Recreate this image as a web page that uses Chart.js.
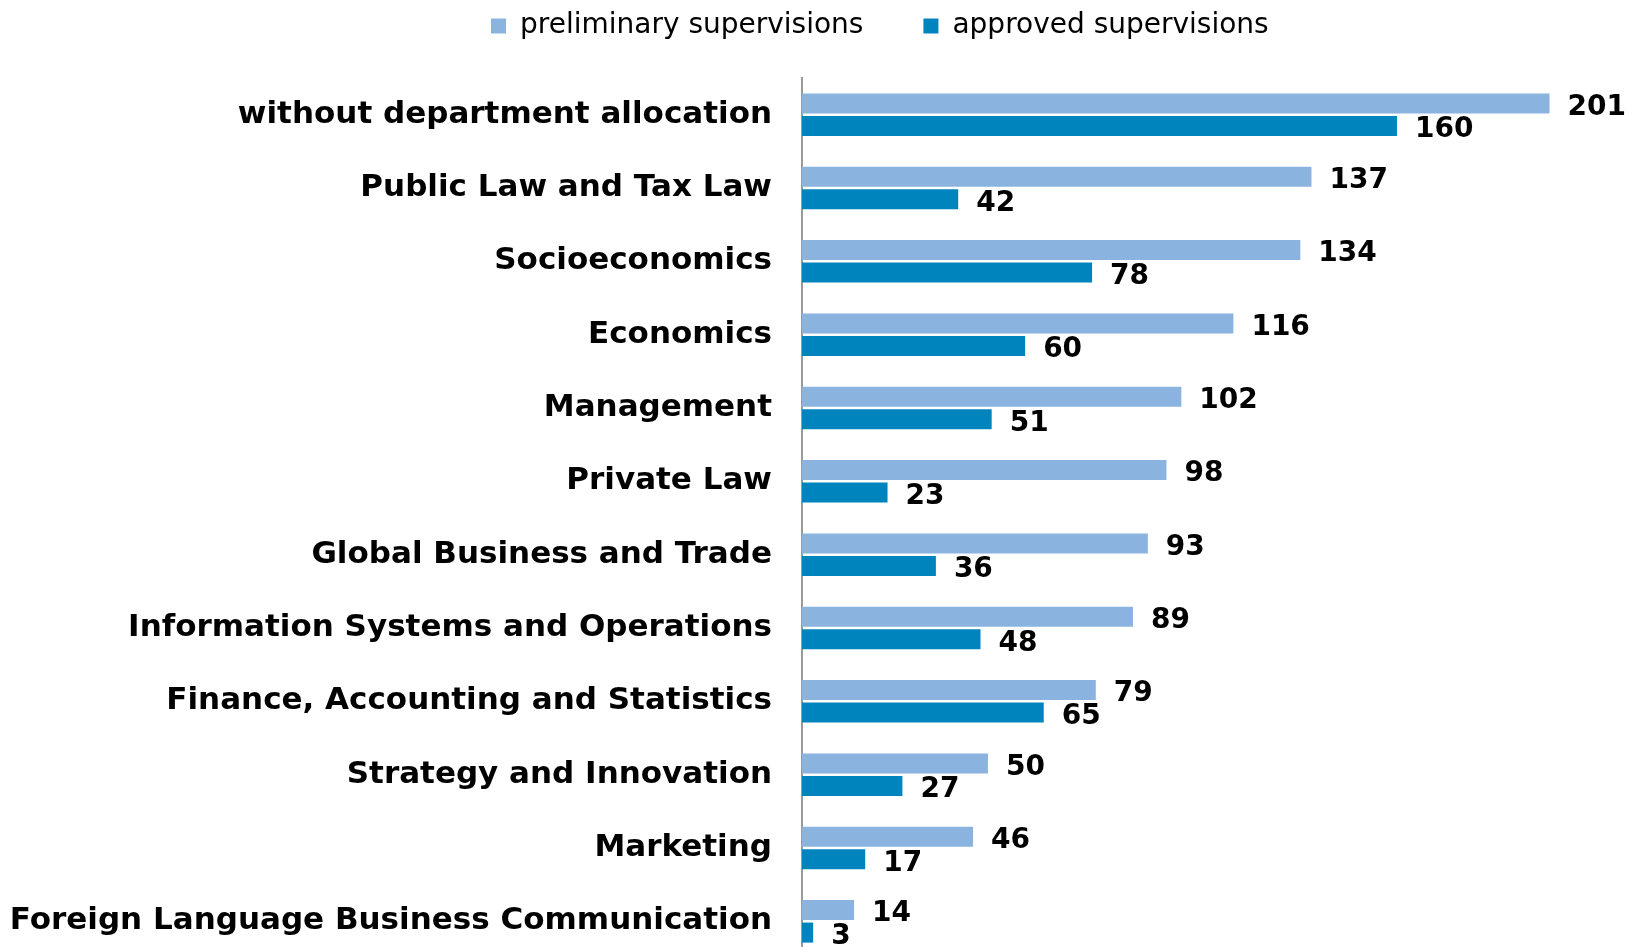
<!DOCTYPE html>
<html>
<head>
<meta charset="utf-8">
<script src="https://cdn.jsdelivr.net/npm/chart.js@4.4.0/dist/chart.umd.min.js"></script>
<style>
  html, body { margin: 0; padding: 0; background: #fff; overflow: hidden; }
  canvas { display: block; }
</style>
</head>
<body>
<canvas id="myChart" width="1641" height="958"></canvas>
<script>
var departments = [
    "without department allocation",
    "Public Law and Tax Law",
    "Socioeconomics",
    "Economics",
    "Management",
    "Private Law",
    "Global Business and Trade",
    "Information Systems and Operations",
    "Finance, Accounting and Statistics",
    "Strategy and Innovation",
    "Marketing",
    "Foreign Language Business Communication"
];
var preliminary = [201, 137, 134, 116, 102, 98, 93, 89, 79, 50, 46, 14];
var approved = [160, 42, 78, 60, 51, 23, 36, 48, 65, 27, 17, 3];

var FONT = "'DejaVu Sans', Verdana, sans-serif";
var LEGEND_PAD = 60;

// values to the right of each bar
var valueLabels = {
    id: 'valueLabels',
    afterDatasetsDraw: function(chart) {
        var ctx = chart.ctx;
        ctx.save();
        ctx.font = "bold 28px " + FONT;
        ctx.fillStyle = "#000";
        ctx.textAlign = "left";
        ctx.textBaseline = "middle";
        chart.data.datasets.forEach(function(ds, i) {
            chart.getDatasetMeta(i).data.forEach(function(bar, j) {
                ctx.fillText(ds.data[j], bar.x + 18, bar.y + 4);
            });
        });
        ctx.restore();
    }
};

// legend: fixed height and position
var legendPlace = {
    id: 'legendPlace',
    beforeInit: function(chart) {
        var fit = chart.legend.fit;
        chart.legend.fit = function() {
            fit.bind(chart.legend)();
            this.height = 78;
        };
    },
    afterLayout: function(chart) {
        var lg = chart.legend;
        lg.left = 491 - LEGEND_PAD;
        lg.top = 12 - LEGEND_PAD;
    }
};

var ctx = document.getElementById("myChart");
var myChart = new Chart(ctx, {
    type: 'bar',
    data: {
        labels: departments,
        datasets: [{
            label: 'preliminary supervisions',
            data: preliminary,
            backgroundColor: '#8AB4DF',
            categoryPercentage: 0.614,
            barPercentage: 0.89
        }, {
            label: 'approved supervisions',
            data: approved,
            backgroundColor: '#0084BE',
            categoryPercentage: 0.614,
            barPercentage: 0.89
        }]
    },
    plugins: [valueLabels, legendPlace],
    options: {
        indexAxis: 'y',
        responsive: false,
        animation: false,
        devicePixelRatio: 1,
        layout: { padding: 0 },
        plugins: {
            tooltip: { enabled: false },
            legend: {
                position: 'top',
                align: 'start',
                labels: {
                    boxWidth: 15,
                    boxHeight: 15,
                    padding: LEGEND_PAD,
                    color: '#000',
                    font: { family: FONT, size: 28 }
                }
            }
        },
        scales: {
            x: {
                display: false,
                min: 0,
                max: 225.6
            },
            y: {
                afterFit: function(scale) {
                    scale.width = 802;
                    scale.paddingTop = 0;
                    scale.paddingBottom = 0;
                },
                grid: { display: true, drawOnChartArea: false, drawTicks: false },
                border: { display: true, color: '#9a9a9a', width: 2 },
                ticks: {
                    padding: 30,
                    color: '#000',
                    font: { family: FONT, size: 31, weight: 'bold' }
                }
            }
        }
    }
});
</script>
</body>
</html>
